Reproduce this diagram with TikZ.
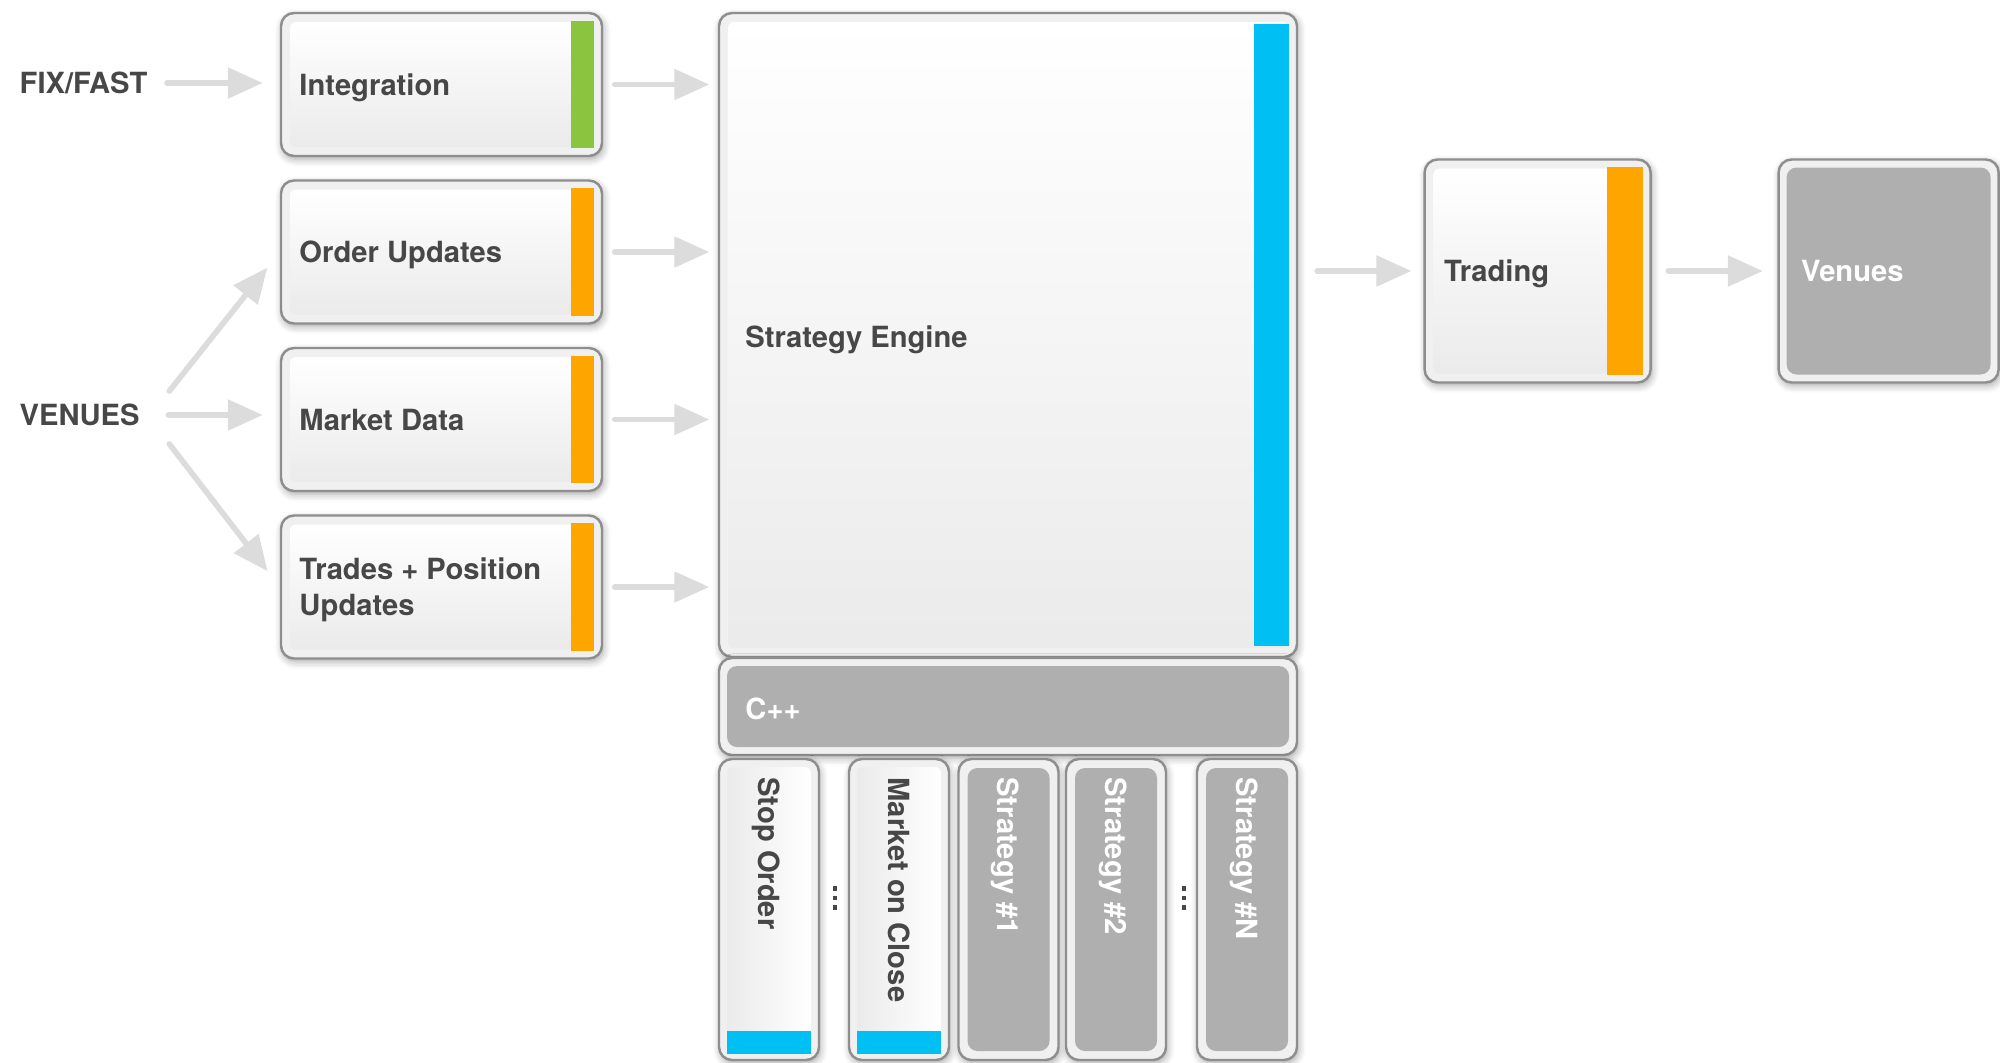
\documentclass[tikz,border=0pt]{standalone}
\usepackage{fontspec}
\setmainfont{TeX Gyre Heros}
\usetikzlibrary{arrows.meta,positioning,shadows.blur}

\definecolor{txtgray}{HTML}{474747}
\definecolor{framegray}{HTML}{F0F0F0}
\definecolor{edgegray}{HTML}{8E8E8E}
\definecolor{fillgray}{HTML}{AFAFAF}
\definecolor{arrowgray}{HTML}{DCDCDC}
\definecolor{barblue}{HTML}{00BFF3}
\definecolor{barorange}{HTML}{FFA500}
\definecolor{bargreen}{HTML}{8BC43F}

\tikzset{
	tileframe/.style={
			draw=edgegray, line width=0.7pt, fill=framegray, rounded corners=0.13cm, inner sep=0pt,
			blur shadow={shadow xshift=0.4pt, shadow yshift=-0.9pt, shadow blur steps=5, shadow opacity=35}
		},
	tilepanel/.style={rounded corners=0.06cm, inner sep=0pt, top color=white, bottom color=black!8},
	sidepanel/.style={rounded corners=0.06cm, inner sep=0pt, left color=black!8, right color=white},
	greypanel/.style={rounded corners=0.1cm, inner sep=0pt, fill=fillgray},
	lbl/.style={font=\fontsize{8.3}{10.2}\selectfont\bfseries, text=txtgray, inner sep=0pt,
			text depth=0pt, anchor=west},
	feed/.style={draw=arrowgray, line width=1.6pt, line cap=round,
			-{Triangle[length=0.35cm, width=0.3cm]}}
}

\begin{document}
\begin{tikzpicture}
	\useasboundingbox (0,0) rectangle (20,-10.62);

	% sources
	\node[lbl] (fix) at (0.19,-0.83) {FIX/FAST};
	\node[lbl] (venues) at (0.19,-4.15) {VENUES};

	% input tiles
	\foreach \nm/\yy/\barcol/\txt in {integ/-0.845/bargreen/Integration,
			order/-2.52/barorange/Order Updates,
			mdata/-4.195/barorange/Market Data,
			trades/-5.87/barorange/{Trades + Position\\Updates}}{
			\node[tileframe, minimum width=3.21cm, minimum height=1.43cm] (\nm) at (4.415,\yy) {};
			\node[tilepanel, minimum width=3.03cm, minimum height=1.25cm] at (\nm) {};
			\fill[\barcol] ([xshift=-0.09cm,yshift=-0.09cm]\nm.north east) rectangle ([xshift=-0.32cm,yshift=0.09cm]\nm.south east);
			\node[lbl, align=left] at ([xshift=0.19cm]\nm.west) {\txt};
		}

	% strategy engine
	\node[tileframe, minimum width=5.78cm, minimum height=6.44cm] (engine) at (10.08,-3.35) {};
	\node[tilepanel, minimum width=5.6cm, minimum height=6.26cm] at (engine) {};
	\fill[barblue] ([xshift=-0.09cm,yshift=-0.12cm]engine.north east) rectangle ([xshift=-0.445cm,yshift=0.12cm]engine.south east);
	\node[lbl] at ([xshift=0.27cm,yshift=-0.02cm]engine.west) {Strategy Engine};

	\node[tileframe, minimum width=5.78cm, minimum height=0.97cm] (cpp) at (10.08,-7.065) {};
	\node[greypanel, minimum width=5.62cm, minimum height=0.81cm] at (cpp) {};
	\node[lbl, text=white] at ([xshift=0.27cm,yshift=-0.02cm]cpp.west) {C++};

	% strategy columns
	\foreach \nm/\xx in {stop/7.69, moc/8.99, strat1/10.085, strat2/11.16, stratn/12.47}{
			\node[tileframe, minimum width=1.0cm, minimum height=3.01cm] (\nm) at (\xx,-9.095) {};
		}
	\foreach \nm/\txt in {stop/Stop Order, moc/Market on Close}{
			\node[sidepanel, minimum width=0.84cm, minimum height=2.85cm] at (\nm) {};
			\fill[barblue] ([xshift=0.09cm,yshift=0.07cm]\nm.south west) rectangle ([xshift=-0.09cm,yshift=0.3cm]\nm.south east);
			\node[lbl, rotate=-90] at ([yshift=-0.19cm]\nm.north) {\txt};
		}
	\foreach \nm/\txt in {strat1/Strategy \#1, strat2/Strategy \#2, stratn/Strategy \#N}{
			\node[greypanel, minimum width=0.82cm, minimum height=2.83cm] at (\nm) {};
			\node[lbl, rotate=-90, text=white] at ([yshift=-0.19cm]\nm.north) {\txt};
		}

	% vertical ellipses between columns
	\coordinate (gap1) at (8.35,-8.98);
	\coordinate (gap2) at (11.84,-8.98);
	\foreach \g in {gap1, gap2}
		\foreach \dy in {-0.095, 0, 0.095}
			\fill[txtgray] ([xshift=-0.024cm,yshift=\dy cm-0.024cm]\g) rectangle ++(0.048,0.048);

	% output side
	\node[tileframe, minimum width=2.26cm, minimum height=2.23cm] (trading) at (15.376,-2.71) {};
	\node[tilepanel, minimum width=2.08cm, minimum height=2.05cm] at (trading) {};
	\fill[barorange] ([xshift=-0.09cm,yshift=-0.09cm]trading.north east) rectangle ([xshift=-0.445cm,yshift=0.09cm]trading.south east);
	\node[lbl] at ([xshift=0.2cm]trading.west) {Trading};

	\node[tileframe, minimum width=2.2cm, minimum height=2.23cm] (market) at (18.886,-2.71) {};
	\node[greypanel, minimum width=2.04cm, minimum height=2.07cm] at (market) {};
	\node[lbl, text=white] at ([xshift=0.23cm]market.west) {Venues};

	% arrows
	\draw[feed, shorten <=0.19cm, shorten >=0.17cm] (fix.east) -- (fix.east -| integ.west);
	\draw[feed, shorten <=0.28cm, shorten >=0.17cm] (venues.east) -- (venues.east -| mdata.west);
	\draw[feed, shorten >=0.2cm] ([xshift=0.29cm,yshift=0.24cm]venues.east) -- (order.west);
	\draw[feed, shorten >=0.2cm] ([xshift=0.29cm,yshift=-0.29cm]venues.east) -- (trades.west);
	\foreach \nm in {integ, order, mdata, trades}{
			\draw[feed, shorten <=0.115cm, shorten >=0.085cm] (\nm.east) -- (\nm.east -| engine.west);
		}
	\draw[feed, shorten <=0.19cm, shorten >=0.12cm] (trading.west -| engine.east) -- (trading.west);
	\draw[feed, shorten <=0.165cm, shorten >=0.145cm] (trading.east) -- (market.west);
\end{tikzpicture}
\end{document}
